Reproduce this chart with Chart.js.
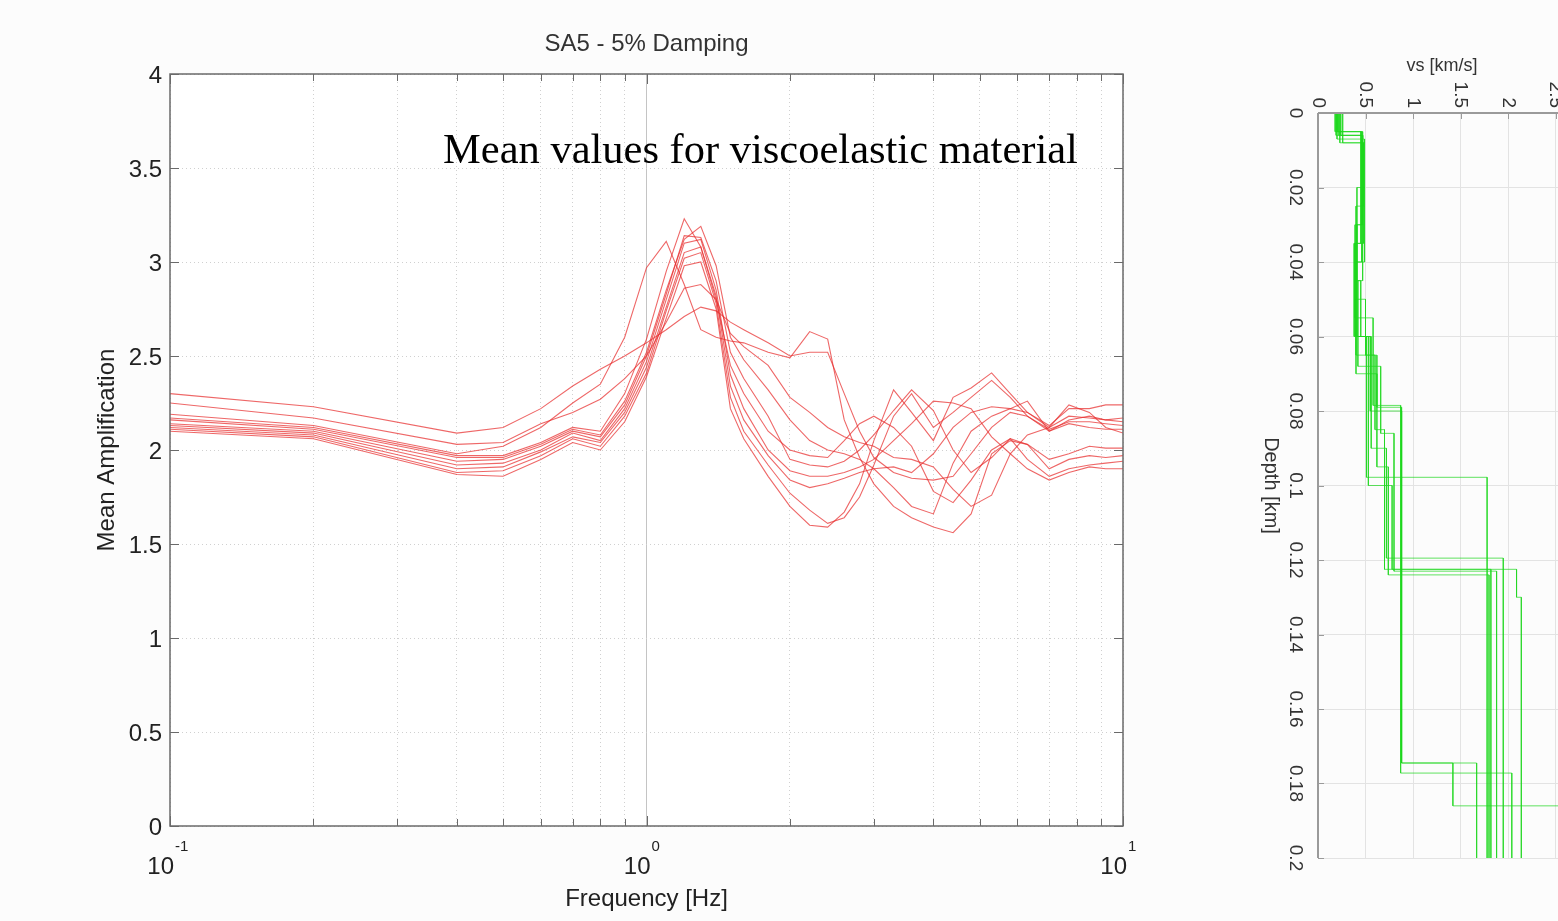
<!DOCTYPE html>
<html>
<head>
<meta charset="utf-8">
<script src="https://cdn.jsdelivr.net/npm/chart.js@4.4.1/dist/chart.umd.min.js"></script>
<style>
  html, body { margin: 0; padding: 0; background: #fcfcfc; overflow: hidden; width: 1558px; height: 921px; }
  #g_amp { position: absolute; left: 0; top: 0; }
  #g_vs { position: absolute; left: 1230px; top: 0; }
</style>
</head>
<body>
<canvas id="g_amp" width="1200" height="921"></canvas>
<canvas id="g_vs" width="420" height="921"></canvas>
<script>
// frequency samples [Hz]
const freq = [0.1, 0.2, 0.4, 0.5, 0.6, 0.7, 0.8, 0.9, 1.0, 1.1, 1.2, 1.3, 1.4, 1.5, 1.6, 1.8,
  2.0, 2.2, 2.4, 2.6, 2.8, 3.0, 3.3, 3.6, 4.0, 4.4, 4.8, 5.3, 5.8, 6.3, 7.0, 7.7, 8.5, 9.2, 10];

// mean amplification, one array per model
const amp1 = [2.30, 2.23, 2.09, 2.12, 2.22, 2.34, 2.43, 2.50, 2.57, 2.64, 2.71, 2.76, 2.74, 2.68, 2.64, 2.57, 2.50, 2.52, 2.52, 2.30, 2.10, 1.96, 1.88, 1.85, 1.84, 1.86, 1.98, 2.12, 2.20, 2.18, 2.11, 2.15, 2.15, 2.14, 2.13];
const amp2 = [2.25, 2.17, 2.03, 2.04, 2.14, 2.20, 2.27, 2.38, 2.50, 2.68, 2.86, 2.88, 2.80, 2.62, 2.55, 2.45, 2.28, 2.20, 2.12, 2.07, 2.04, 2.02, 1.96, 1.95, 1.91, 1.79, 1.70, 1.76, 1.98, 2.08, 2.12, 2.18, 2.17, 2.16, 2.15];
const amp3 = [2.19, 2.13, 1.98, 2.02, 2.12, 2.25, 2.35, 2.60, 2.97, 3.11, 2.88, 2.64, 2.60, 2.58, 2.57, 2.52, 2.49, 2.63, 2.59, 2.16, 1.96, 1.82, 1.70, 1.64, 1.59, 1.56, 1.66, 1.98, 2.05, 2.03, 1.95, 1.98, 2.02, 2.01, 2.01];
const amp4 = [2.17, 2.12, 1.97, 1.97, 2.04, 2.12, 2.10, 2.30, 2.59, 2.95, 3.23, 3.08, 2.80, 2.45, 2.30, 2.10, 2.00, 1.97, 1.96, 2.05, 2.14, 2.18, 2.12, 2.02, 1.78, 1.72, 1.84, 2.00, 2.06, 1.95, 1.86, 1.90, 1.92, 1.93, 1.94];
const amp5 = [2.16, 2.11, 1.96, 1.96, 2.03, 2.11, 2.08, 2.26, 2.52, 2.85, 3.12, 3.19, 2.98, 2.60, 2.48, 2.32, 2.16, 2.05, 2.00, 1.98, 1.95, 1.90, 1.80, 1.70, 1.66, 1.93, 2.10, 2.18, 2.22, 2.20, 2.13, 2.22, 2.22, 2.24, 2.24];
const amp6 = [2.14, 2.10, 1.94, 1.95, 2.02, 2.10, 2.07, 2.24, 2.50, 2.83, 3.14, 3.13, 2.90, 2.52, 2.38, 2.18, 1.95, 1.92, 1.91, 1.94, 2.00, 2.08, 2.21, 2.32, 2.21, 2.00, 1.88, 1.96, 2.06, 2.03, 1.90, 1.95, 1.97, 1.96, 1.97];
const amp7 = [2.13, 2.09, 1.92, 1.93, 2.00, 2.09, 2.05, 2.22, 2.47, 2.80, 3.10, 3.12, 2.85, 2.40, 2.22, 2.00, 1.89, 1.86, 1.86, 1.88, 1.91, 1.95, 2.05, 2.14, 2.26, 2.25, 2.22, 2.07, 1.98, 1.90, 1.84, 1.88, 1.91, 1.90, 1.90];
const amp8 = [2.12, 2.08, 1.90, 1.91, 1.99, 2.07, 2.04, 2.20, 2.44, 2.76, 3.05, 3.08, 2.82, 2.34, 2.16, 1.97, 1.84, 1.80, 1.82, 1.85, 1.88, 1.90, 1.91, 1.88, 1.98, 2.12, 2.20, 2.23, 2.22, 2.26, 2.10, 2.16, 2.18, 2.16, 2.17];
const amp9 = [2.11, 2.07, 1.88, 1.89, 1.97, 2.06, 2.02, 2.18, 2.41, 2.74, 3.02, 3.05, 2.78, 2.28, 2.10, 1.92, 1.77, 1.68, 1.61, 1.64, 1.75, 1.92, 2.18, 2.30, 2.12, 2.20, 2.28, 2.37, 2.28, 2.18, 2.10, 2.14, 2.12, 2.11, 2.11];
const amp10 = [2.10, 2.06, 1.87, 1.86, 1.95, 2.04, 2.00, 2.15, 2.39, 2.70, 2.98, 3.00, 2.75, 2.22, 2.06, 1.86, 1.70, 1.60, 1.59, 1.67, 1.82, 2.05, 2.32, 2.20, 2.05, 2.28, 2.33, 2.41, 2.30, 2.20, 2.12, 2.24, 2.20, 2.12, 2.09];
const ampCurves = [amp1, amp2, amp3, amp4, amp5, amp6, amp7, amp8, amp9, amp10];

// tick values of the amplification plot
const freqTicks = [0.1, 0.2, 0.3, 0.4, 0.5, 0.6, 0.7, 0.8, 0.9, 1, 2, 3, 4, 5, 6, 7, 8, 9, 10];
const freqDecades = [0.1, 1, 10];
const decadeExp = ['-1', '0', '1'];
const ampTicks = [0, 0.5, 1, 1.5, 2, 2.5, 3, 3.5, 4];

// shear velocity profiles: layer boundaries [km] and vs [km/s]
const depth1 = [0, 0.005, 0.02, 0.045, 0.06, 0.08, 0.1745, 0.186, 0.2];
const vs1 = [0.20, 0.47, 0.41, 0.45, 0.55, 0.88, 1.42, 2.75];
const depth2 = [0, 0.008, 0.025, 0.05, 0.065, 0.079, 0.1745, 0.2];
const vs2 = [0.26, 0.48, 0.40, 0.50, 0.62, 0.88, 1.67];
const depth3 = [0, 0.006, 0.03, 0.055, 0.0785, 0.1772, 0.2];
const vs3 = [0.22, 0.46, 0.39, 0.58, 0.87, 2.04];
const depth4 = [0, 0.005, 0.035, 0.06, 0.0978, 0.2];
const vs4 = [0.18, 0.45, 0.38, 0.51, 1.78];
const depth5 = [0, 0.007, 0.04, 0.065, 0.085, 0.1225, 0.13, 0.2];
const vs5 = [0.20, 0.49, 0.40, 0.60, 0.70, 2.09, 2.14];
const depth6 = [0, 0.006, 0.03, 0.06, 0.09, 0.1195, 0.2];
const vs6 = [0.24, 0.47, 0.41, 0.56, 0.72, 1.95];
const depth7 = [0, 0.005, 0.04, 0.07, 0.095, 0.124, 0.2];
const vs7 = [0.21, 0.46, 0.40, 0.62, 0.74, 1.80];
const depth8 = [0, 0.008, 0.035, 0.06, 0.1, 0.1225, 0.2];
const vs8 = [0.23, 0.48, 0.39, 0.53, 0.78, 1.82];
const depth9 = [0, 0.006, 0.045, 0.068, 0.086, 0.123, 0.2];
const vs9 = [0.19, 0.47, 0.42, 0.66, 0.80, 1.88];
const profDepths = [depth1, depth2, depth3, depth4, depth5, depth6, depth7, depth8, depth9];
const profVs = [vs1, vs2, vs3, vs4, vs5, vs6, vs7, vs8, vs9];

const vsTicks = [0, 0.5, 1, 1.5, 2, 2.5, 3];
const depthTicks = [0, 0.02, 0.04, 0.06, 0.08, 0.1, 0.12, 0.14, 0.16, 0.18, 0.2];

const sans = '"Liberation Sans", Arial, sans-serif';

function line (ctx, x1, y1, x2, y2) {
    ctx.beginPath();
    ctx.moveTo(x1, y1);
    ctx.lineTo(x2, y2);
    ctx.stroke();
}

function fixTicks (list) {
    return function (scale) { scale.ticks = list.map(v => ({value: v})); };
}

// ---------- amplification plot ----------
const ampDecor = {
    id: 'ampDecor',
    beforeDraw (chart) {
        const {ctx, chartArea: a} = chart;
        ctx.save();
        ctx.fillStyle = '#ffffff';
        ctx.fillRect(a.left, a.top, a.right - a.left, a.bottom - a.top);
        ctx.restore();
    },
    afterDraw (chart) {
        const {ctx, chartArea: a, scales: {x, y}} = chart;
        ctx.save();
        ctx.strokeStyle = '#6a6a6a';
        ctx.lineWidth = 1.5;
        ctx.strokeRect(a.left, a.top, a.right - a.left, a.bottom - a.top);
        ctx.lineWidth = 1;
        freqTicks.forEach(v => {
            const px = Math.round(x.getPixelForValue(v)) + 0.5;
            const len = freqDecades.includes(v) ? 10 : 7;
            line(ctx, px, a.bottom, px, a.bottom - len);
            line(ctx, px, a.top, px, a.top + len);
        });
        ampTicks.forEach(v => {
            const py = Math.round(y.getPixelForValue(v)) + 0.5;
            line(ctx, a.left, py, a.left + 9, py);
            line(ctx, a.right, py, a.right - 9, py);
        });

        ctx.fillStyle = '#222';
        ctx.font = '24px ' + sans;
        ctx.textAlign = 'right';
        ctx.textBaseline = 'middle';
        ampTicks.forEach(v => {
            ctx.fillText(String(v), 162, y.getPixelForValue(v) + 2);
        });
        freqDecades.forEach((v, i) => {
            const px = x.getPixelForValue(v);
            ctx.font = '24px ' + sans;
            ctx.textAlign = 'right';
            ctx.fillText('10', px + 4, 867);
            ctx.font = '15px ' + sans;
            ctx.textAlign = 'left';
            ctx.fillText(decadeExp[i], px + 5, 847);
        });

        ctx.font = '24px ' + sans;
        ctx.textAlign = 'center';
        ctx.fillStyle = '#333';
        ctx.fillText('SA5 - 5% Damping', (a.left + a.right) / 2, 44);
        ctx.fillStyle = '#222';
        ctx.fillText('Frequency [Hz]', (a.left + a.right) / 2, 899);
        ctx.save();
        ctx.translate(107, (a.top + a.bottom) / 2);
        ctx.rotate(-Math.PI / 2);
        ctx.fillText('Mean Amplification', 0, 0);
        ctx.restore();

        ctx.fillStyle = '#000';
        ctx.font = '42.5px "Liberation Serif", "Times New Roman", serif';
        ctx.textAlign = 'left';
        ctx.textBaseline = 'alphabetic';
        ctx.fillText('Mean values for viscoelastic material', 443, 163);
        ctx.restore();
    }
};

const ampChart = new Chart(document.getElementById('g_amp').getContext('2d'), {
    type: 'line',
    data: {
        datasets: ampCurves.map(c => ({
            data: freq.map((f, i) => ({x: f, y: c[i]})),
            borderColor: 'rgba(232, 45, 45, 0.72)',
            borderWidth: 1.1,
            pointRadius: 0,
            tension: 0,
            fill: false
        }))
    },
    options: {
        responsive: false,
        animation: false,
        layout: {padding: {top: 74, right: 77, left: 0, bottom: 0}},
        plugins: {legend: {display: false}, tooltip: {enabled: false}},
        scales: {
            x: {
                type: 'logarithmic',
                min: 0.1,
                max: 10,
                afterBuildTicks: fixTicks(freqTicks),
                afterFit: s => { s.height = 95; },
                ticks: {display: false},
                grid: {
                    drawTicks: false,
                    color: c => c.tick && c.tick.value === 1 ? '#c4c4c4' : '#d0d0d0',
                    lineWidth: 1
                },
                border: {display: false, dash: c => c.tick && c.tick.value === 1 ? [] : [1, 3]}
            },
            y: {
                min: 0,
                max: 4,
                afterBuildTicks: fixTicks(ampTicks),
                afterFit: s => { s.width = 170; },
                ticks: {display: false},
                grid: {drawTicks: false, color: '#d0d0d0', lineWidth: 1},
                border: {display: false, dash: [1, 3]}
            }
        }
    },
    plugins: [ampDecor]
});

// ---------- vs profile plot ----------
const vsDecor = {
    id: 'vsDecor',
    afterDraw (chart) {
        const {ctx, chartArea: a, scales: {x, y}} = chart;
        ctx.save();
        ctx.strokeStyle = '#9a9a9a';
        ctx.lineWidth = 2;
        line(ctx, a.left, a.top, a.left, a.bottom);
        line(ctx, a.left, a.top, a.right, a.top);
        ctx.lineWidth = 1;
        depthTicks.forEach(v => {
            const py = Math.round(y.getPixelForValue(v)) + 0.5;
            line(ctx, a.left, py, a.left + 6, py);
        });
        vsTicks.forEach(v => {
            const px = Math.round(x.getPixelForValue(v)) + 0.5;
            line(ctx, px, a.top, px, a.top + 6);
        });

        ctx.fillStyle = '#333';
        ctx.font = '19px ' + sans;
        ctx.textBaseline = 'middle';
        // rotated tick labels, reading downwards
        depthTicks.forEach(v => {
            ctx.save();
            ctx.translate(a.left - 23, y.getPixelForValue(v));
            ctx.rotate(Math.PI / 2);
            ctx.textAlign = 'center';
            ctx.fillText(String(v), 0, 0);
            ctx.restore();
        });
        vsTicks.forEach(v => {
            ctx.save();
            ctx.translate(x.getPixelForValue(v), a.top - 5);
            ctx.rotate(Math.PI / 2);
            ctx.textAlign = 'right';
            ctx.fillText(String(v), 0, 0);
            ctx.restore();
        });
        ctx.font = '18px ' + sans;
        ctx.textAlign = 'center';
        ctx.fillText('vs [km/s]', 212, 66);
        ctx.save();
        ctx.translate(41, (a.top + a.bottom) / 2);
        ctx.rotate(Math.PI / 2);
        ctx.font = '20px ' + sans;
        ctx.fillText('Depth [km]', 0, 0);
        ctx.restore();
        ctx.restore();
    }
};

function profilePoints (d, v) {
    const pts = [];
    v.forEach((vel, i) => {
        pts.push({x: vel, y: d[i]});
        pts.push({x: vel, y: d[i + 1]});
    });
    return pts;
}

const vsChart = new Chart(document.getElementById('g_vs').getContext('2d'), {
    type: 'scatter',
    data: {
        datasets: profVs.map((v, k) => ({
            data: profilePoints(profDepths[k], v),
            showLine: true,
            borderColor: 'rgba(30, 215, 30, 0.7)',
            borderWidth: 1,
            pointRadius: 0
        }))
    },
    options: {
        responsive: false,
        animation: false,
        layout: {padding: {top: 0, right: 47, left: 0, bottom: 63}},
        plugins: {legend: {display: false}, tooltip: {enabled: false}},
        scales: {
            x: {
                type: 'linear',
                position: 'top',
                min: 0,
                max: 3,
                afterBuildTicks: fixTicks(vsTicks),
                afterFit: s => { s.height = 113; },
                ticks: {display: false},
                grid: {drawTicks: false, color: '#e3e3e3'},
                border: {display: false}
            },
            y: {
                type: 'linear',
                reverse: true,
                min: 0,
                max: 0.2,
                afterBuildTicks: fixTicks(depthTicks),
                afterFit: s => { s.width = 88; },
                ticks: {display: false},
                grid: {drawTicks: false, color: '#e3e3e3'},
                border: {display: false}
            }
        }
    },
    plugins: [vsDecor]
});
</script>
</body>
</html>
